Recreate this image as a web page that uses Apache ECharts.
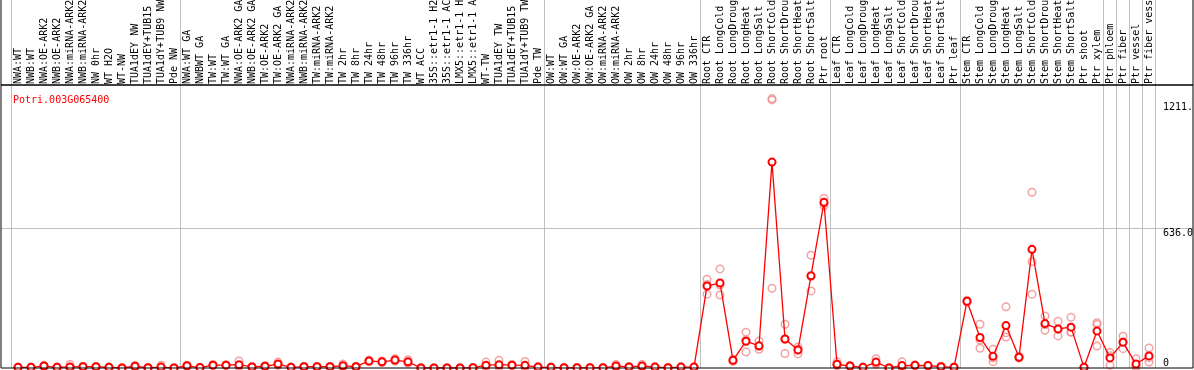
<!DOCTYPE html>
<html>
<head>
<meta charset="utf-8">
<script src="https://cdn.jsdelivr.net/npm/echarts/dist/echarts.min.js"></script>
<style>
html,body{margin:0;padding:0;background:#fff;}
#chart{width:1194px;height:370px;}
</style>
</head>
<body>
<div id="chart"></div>
<script>
const geneTitle = 'Potri.003G065400';

const categories = [
'NWA:WT','NWB:WT','NWA:OE-ARK2','NWB:OE-ARK2','NWA:miRNA-ARK2','NWB:miRNA-ARK2','NW 0hr','WT H2O','WT-NW','TUA1dEY NW','TUA1dEY+TUB15 NW','TUA1dY+TUB9 NW','Pde NW',
'NWA:WT GA','NWBWT GA','TW:WT','TW:WT GA','NWA:OE-ARK2 GA','NWB:OE-ARK2 GA','TW:OE-ARK2','TW:OE-ARK2 GA','NWA:miRNA-ARK2','NWB:miRNA-ARK2','TW:miRNA-ARK2','TW:miRNA-ARK2','TW 2hr','TW 8hr','TW 24hr','TW 48hr','TW 96hr','TW 336hr','WT ACC','35S::etr1-1 H2O','35S::etr1-1 ACC','LMX5::etr1-1 H2O','LMX5::etr1-1 ACC','WT-TW','TUA1dEY TW','TUA1dEY+TUB15 TW','TUA1dY+TUB9 TW','Pde TW',
'OW:WT','OW:WT GA','OW:OE-ARK2','OW:OE-ARK2 GA','OW:miRNA-ARK2','OW:miRNA-ARK2','OW 2hr','OW 8hr','OW 24hr','OW 48hr','OW 96hr','OW 336hr',
'Root CTR','Root LongCold','Root LongDrought','Root LongHeat','Root LongSalt','Root ShortCold','Root ShortDrought','Root ShortHeat','Root ShortSalt','Ptr root',
'Leaf CTR','Leaf LongCold','Leaf LongDrought','Leaf LongHeat','Leaf LongSalt','Leaf ShortCold','Leaf ShortDrought','Leaf ShortHeat','Leaf ShortSalt','Ptr leaf',
'Stem CTR','Stem LongCold','Stem LongDrought','Stem LongHeat','Stem LongSalt','Stem ShortCold','Stem ShortDrought','Stem ShortHeat','Stem ShortSalt','Ptr shoot',
'Ptr xylem','Ptr phloem','Ptr fiber','Ptr vessel','Ptr fiber vessel'
];

// first category index of each separated group
const groupStarts = [0, 13, 41, 53, 63, 73, 84, 85, 86, 87];

const meanValues = [
3,3,9,3,5,6,6,3,0,8,1,4,0,
10,2,13,13,15,5,8,18,3,6,6,6,10,6,32,28,36,28,0,0,0,0,1,13,15,13,12,4,
3,1,1,1,1,9,5,9,4,1,4,4,
373,387,35,122,101,937,132,82,420,754,
17,9,3,27,0,11,12,11,6,3,
304,139,53,193,49,540,202,178,186,3,
168,46,117,18,55
];

const replicate1 = [
4,3,12,4,16,8,7,4,0,12,2,12,0,
13,3,16,15,32,7,10,27,4,8,7,8,18,8,36,32,42,38,0,0,0,0,2,27,35,16,30,5,
4,2,2,2,2,16,7,16,5,2,5,5,
404,451,40,163,123,1226,199,96,513,773,
28,11,4,42,0,28,14,13,8,5,
308,199,85,279,53,800,237,213,231,4,
206,70,145,42,91
];

const replicate2 = [
3,4,8,3,0,6,6,3,0,7,1,0,0,
10,2,12,13,8,5,8,15,3,6,6,6,7,6,31,27,35,25,0,0,0,0,1,7,6,13,4,4,
3,1,1,1,1,6,5,6,4,1,4,4,
380,378,35,128,97,1220,131,84,416,750,
13,9,3,22,0,4,12,11,6,3,
303,128,46,160,49,484,197,175,164,3,
198,56,118,8,47
];

const replicate3 = [
2,2,7,2,0,4,5,2,0,5,0,0,0,
7,1,11,11,5,3,6,12,2,4,5,4,5,4,29,25,31,21,0,0,0,0,0,5,4,10,2,3,
2,0,0,0,0,5,3,5,3,0,3,3,
336,332,30,73,85,363,66,64,351,738,
10,7,2,17,0,2,10,9,4,1,
300,90,29,141,45,336,172,146,163,2,
100,12,88,4,27
];

const yMax = 1288;
const gridValue = 636;
const gridMax = 1272;
const yTickValues = [636, 1211];
const yTickLabels = ['636.0', '1211.'];
const yZeroValues = [0];
const yZeroLabels = ['0'];

const FONT = 'DejaVu Sans Mono';
const GRAY = '#c0c0c0';

const startSet = new Set(groupStarts);
const splitFn = function (idx) { return startSet.has(idx); };

const repData = [];
[replicate1, replicate2, replicate3].forEach(function (arr) {
  arr.forEach(function (v, i) { repData.push([i, v]); });
});

const PLOT_TOP = 85, PLOT_BOTTOM = 368;
const plotH = PLOT_BOTTOM - PLOT_TOP;
const gridLineH = plotH * gridMax / yMax;

const G = {outerBoundsMode: 'none', containLabel: false};

const chart = echarts.init(document.getElementById('chart'), null, {renderer: 'canvas'});
chart.setOption({
  animation: false,
  backgroundColor: '#fff',
  title: {
    text: geneTitle,
    left: 8, top: 90,
    textStyle: {color: '#ff0000', fontFamily: FONT, fontSize: 10, fontWeight: 'normal'}
  },
  grid: [
    Object.assign({left: 1, top: PLOT_TOP, width: 1192, height: plotH, show: true, borderColor: '#000', borderWidth: 1, backgroundColor: 'transparent', z: 5}, G),
    Object.assign({left: 1, top: -10, width: 1192, height: PLOT_TOP + 10, show: true, borderColor: '#000', borderWidth: 1, backgroundColor: 'transparent', z: 5}, G),
    Object.assign({left: 11.5, top: PLOT_TOP, width: 1144, height: plotH}, G),
    Object.assign({left: 11.5, top: 0, width: 1144, height: PLOT_TOP}, G),
    Object.assign({left: 1, top: PLOT_BOTTOM - gridLineH, width: 1192, height: gridLineH}, G)
  ],
  xAxis: [
    {gridIndex: 0, type: 'value', min: 0, max: 1, show: false},
    {gridIndex: 1, type: 'value', min: 0, max: 1, show: false},
    {
      gridIndex: 2, type: 'category', position: 'top', data: categories, boundaryGap: true,
      axisLine: {show: false}, axisTick: {show: false},
      axisLabel: {interval: 0, rotate: 90, margin: 1, align: 'left', verticalAlign: 'middle', fontFamily: FONT, fontSize: 10, color: '#000', hideOverlap: false},
      splitLine: {show: true, interval: splitFn, lineStyle: {color: GRAY, width: 1}}
    },
    {
      gridIndex: 3, type: 'category', data: categories, boundaryGap: true,
      axisLine: {show: false}, axisTick: {show: false}, axisLabel: {show: false},
      splitLine: {show: true, interval: splitFn, lineStyle: {color: GRAY, width: 1}}
    },
    {gridIndex: 4, type: 'value', min: 0, max: 1, show: false}
  ],
  yAxis: [
    {
      gridIndex: 0, type: 'value', min: 0, max: yMax, position: 'right',
      axisLine: {show: false}, axisTick: {show: false}, splitLine: {show: false},
      axisLabel: {
        inside: true, margin: 30, align: 'left', verticalAlign: 'top',
        customValues: yTickValues,
        formatter: function (v) { const k = yTickValues.indexOf(v); return k >= 0 ? yTickLabels[k] : ''; },
        fontFamily: FONT, fontSize: 10, color: '#000'
      }
    },
    {
      gridIndex: 0, type: 'value', min: 0, max: yMax, position: 'right',
      axisLine: {show: false}, axisTick: {show: false}, splitLine: {show: false},
      axisLabel: {
        inside: true, margin: 30, align: 'left', verticalAlign: 'bottom',
        customValues: yZeroValues,
        formatter: function (v) { const k = yZeroValues.indexOf(v); return k >= 0 ? yZeroLabels[k] : ''; },
        fontFamily: FONT, fontSize: 10, color: '#000'
      }
    },
    {gridIndex: 1, type: 'value', min: 0, max: 1, show: false},
    {gridIndex: 2, type: 'value', min: 0, max: yMax, show: false},
    {gridIndex: 3, type: 'value', min: 0, max: 1, show: false},
    {
      gridIndex: 4, type: 'value', min: 0, max: gridMax, interval: gridValue,
      axisLine: {show: false}, axisTick: {show: false}, axisLabel: {show: false},
      splitLine: {show: true, showMinLine: false, showMaxLine: false, lineStyle: {color: GRAY, width: 1}}
    }
  ],
  series: [
    {
      type: 'scatter', xAxisIndex: 2, yAxisIndex: 3, data: repData, z: 2,
      symbol: 'circle', symbolSize: 7.5,
      itemStyle: {color: 'rgba(255,255,255,0)', borderColor: '#f08c8c', borderWidth: 1.5}
    },
    {
      type: 'line', xAxisIndex: 2, yAxisIndex: 3, data: meanValues, z: 3,
      symbol: 'emptyCircle', symbolSize: 7, showAllSymbol: true,
      lineStyle: {color: '#ff0000', width: 1.3},
      itemStyle: {color: '#ff0000', borderColor: '#ff0000', borderWidth: 2}
    }
  ]
});
</script>
</body>
</html>
